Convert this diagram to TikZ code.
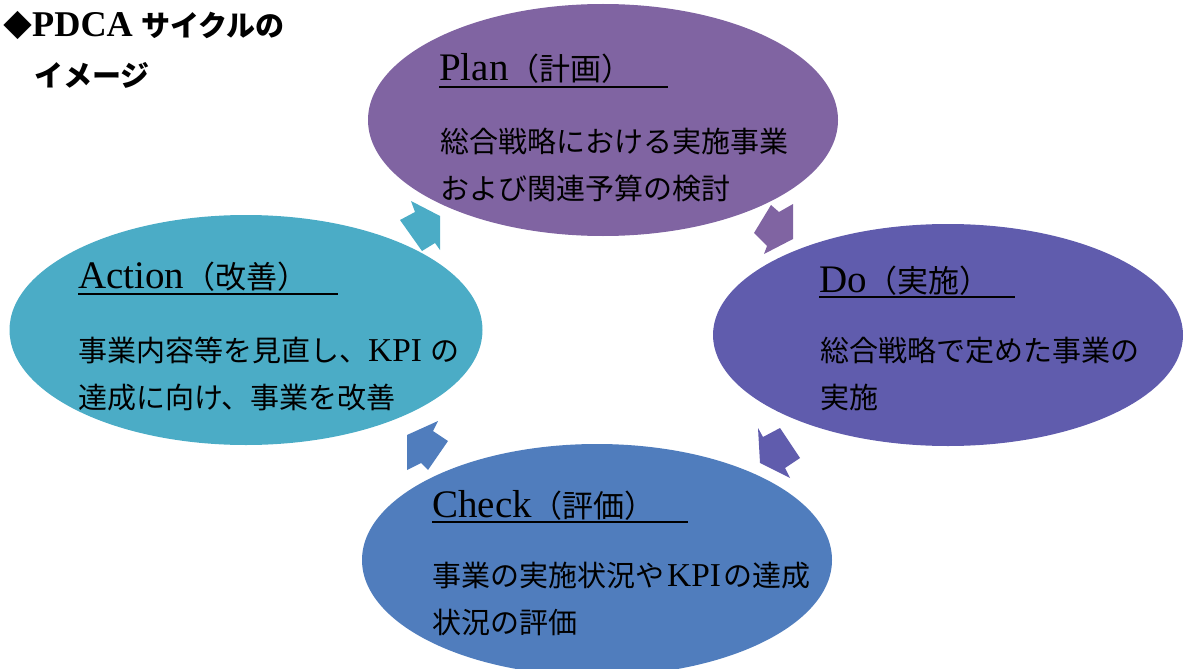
\documentclass[tikz,border=0pt]{standalone}
\usepackage{fontspec}
\setmainfont{Liberation Serif}[Scale=1.15]
\newfontfamily\ttl{Liberation Serif}[Scale=1.3]
\newfontfamily\hdr{Liberation Serif}[Scale=1.25]
\newfontfamily\jp{Noto Sans CJK JP}
\newcommand\ttljp[1]{{\jp\fontsize{31}{34}\selectfont #1}}
\usetikzlibrary{shapes.geometric}

\definecolor{plancol}{RGB}{128,100,162}
\definecolor{docol}{RGB}{96,92,173}
\definecolor{checkcol}{RGB}{80,125,189}
\definecolor{actcol}{RGB}{75,172,198}

\begin{document}
\begin{tikzpicture}[x=1pt,y=-1pt]
      \tikzstyle{phase}=[ellipse, minimum width=470pt, minimum height=232pt, inner sep=0pt]
      \tikzstyle{heading}=[anchor=base west, inner sep=0pt, font=\fontsize{30}{34}\selectfont]
      \tikzstyle{detail}=[anchor=base west, inner sep=0pt, align=left, font=\fontsize{29}{47}\selectfont]
      \tikzstyle{bar}=[line width=1.6pt]

      \useasboundingbox (0,0) rectangle (1184,669);
      \clip (0,0) rectangle (1184,669);

      % Draw the four phases
      \node[phase, fill=plancol] (PLAN) at (603,120) {};
      \node[phase, fill=docol, minimum height=222pt] (DO) at (948,335) {};
      \node[phase, fill=checkcol] (CHECK) at (597,560) {};
      \node[phase, fill=actcol, minimum width=473pt, minimum height=230pt] (ACT) at (246,330) {};

      % Draw the turning arrows between the phases
      \fill[actcol] (400,220) -- (415,212) -- (411,201) -- (440,216) -- (440,250) -- (435,243) -- (422,251) -- cycle;
      \fill[plancol] (754,233) -- (771,205) -- (779,212) -- (793,204) -- (793,239) -- (764,254) -- (767,246) -- cycle;
      \fill[docol] (758,428) -- (763,437) -- (780,428) -- (800,458) -- (785,468) -- (790,478) -- (760,463) -- cycle;
      \fill[checkcol] (407,435) -- (438,421) -- (433,431) -- (448,441) -- (428,470) -- (421,463) -- (407,470) -- cycle;

      % Titles of the phases
      \node[heading] (PLAN-T) at (439,81) {{\ttl Plan}\ttljp{（計画）}};
      \node[heading] (DO-T) at (819,292) {{\ttl Do}\ttljp{（実施）}};
      \node[heading] (CHECK-T) at (432,517) {{\ttl Check}\ttljp{（評価）}};
      \node[heading] (ACT-T) at (78,288) {{\ttl Action}\ttljp{（改善）}};
      \draw[bar] ([yshift=-6pt]PLAN-T.base west) -- ++(229,0);
      \draw[bar] ([yshift=-5pt]DO-T.base west) -- ++(196,0);
      \draw[bar] ([yshift=-5pt]CHECK-T.base west) -- ++(256,0);
      \draw[bar] ([yshift=-6pt]ACT-T.base west) -- ++(260,0);

      % Text of the phases (anchored at the last line)
      \node[detail] (PLAN-D) at (440,199) {{\jp 総合戦略における実施事業}\\{\jp および関連予算の検討}};
      \node[detail] (DO-D) at (820,408) {{\jp 総合戦略で定めた事業の}\\{\jp 実施}};
      \node[detail] (CHECK-D) at (432,633) {{\jp 事業の実施状況や}\hspace{3pt}KPI\hspace{3pt}{\jp の達成}\\{\jp 状況の評価}};
      \node[detail] (ACT-D) at (78,408) {{\jp 事業内容等を見直し、}KPI {\jp の}\\{\jp 達成に向け、事業を改善}};

      % Heading of the figure
      \node[heading, font=\fontsize{29}{34}\selectfont\bfseries] (HEAD) at (3,37) {{\jp ◆}{\hdr PDCA} {\jp サイクルの}};
      \node[heading, font=\fontsize{29}{34}\selectfont\bfseries] (HEAD-2) at (34,86) {\jp イメージ};
\end{tikzpicture}
\end{document}
